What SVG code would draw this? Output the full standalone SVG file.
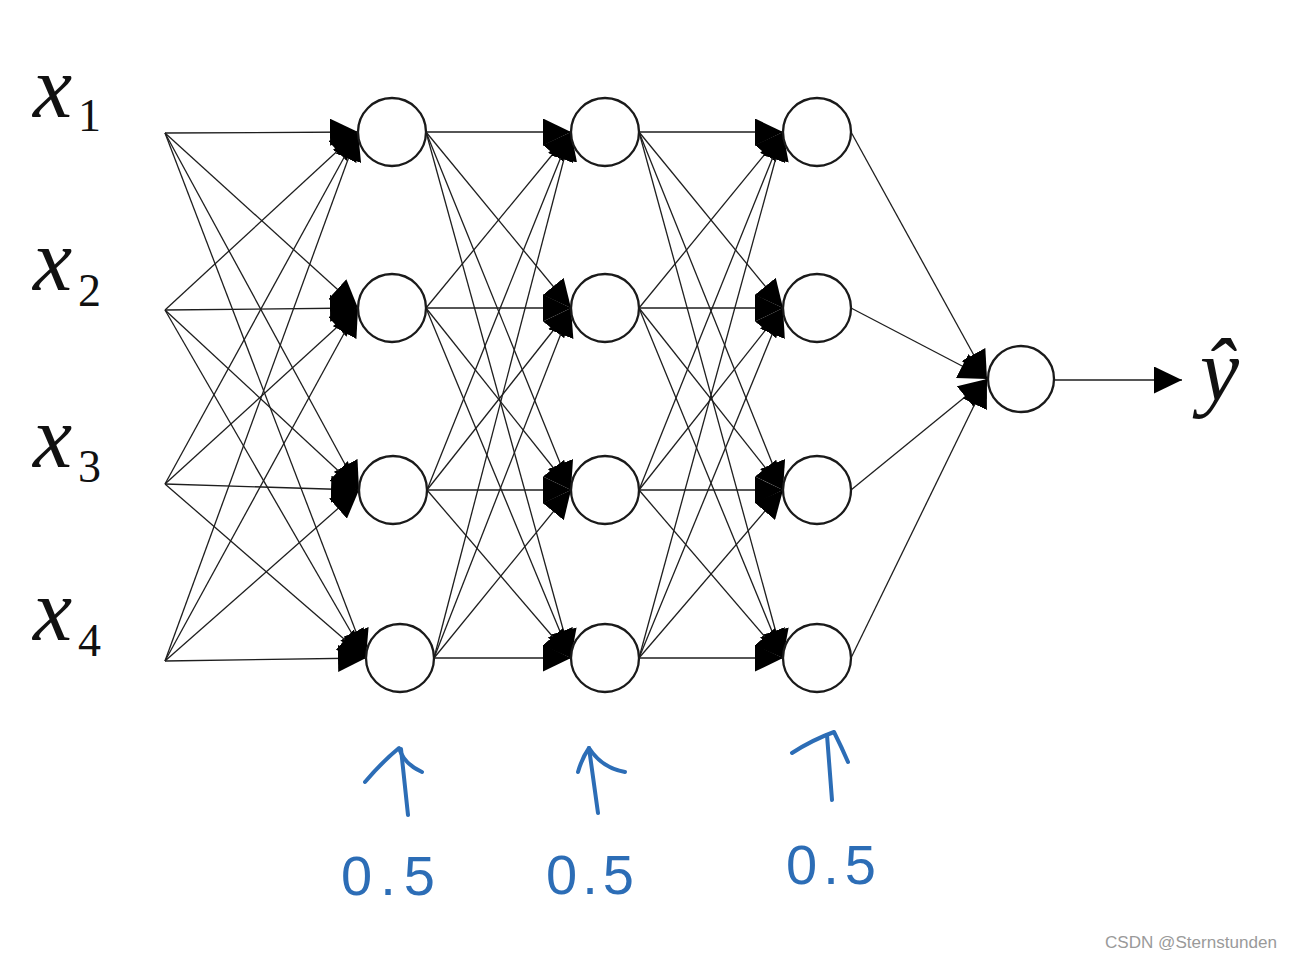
<svg xmlns="http://www.w3.org/2000/svg" width="1292" height="958" viewBox="0 0 1292 958">
<style>
.bg{fill:#ffffff}
.c{stroke:#1e1e1e;stroke-width:1.3;fill:none;marker-end:url(#ah)}
.n{fill:#ffffff;stroke:#1a1a1a;stroke-width:2.3}
.var{font-family:"Liberation Serif","DejaVu Serif",serif;font-style:italic;font-size:88px;fill:#111}
.sub{font-family:"Liberation Serif","DejaVu Serif",serif;font-size:46px;fill:#111}
.hand{fill:none;stroke:#2c6db6;stroke-width:4;stroke-linecap:round;stroke-linejoin:round}
.num{font-family:"Liberation Sans","DejaVu Sans",sans-serif;font-size:56px;fill:#2c6db6}
.wm{font-family:"Liberation Sans","DejaVu Sans",sans-serif;font-size:16px;fill:#9a9a9a}
</style>
<defs>
<marker id="ah" markerUnits="userSpaceOnUse" markerWidth="28" markerHeight="27" refX="28" refY="13.5" orient="auto">
<path d="M0,0 L28,13.5 L0,27 Z" fill="#000"/>
</marker>
</defs>
<rect class="bg" x="0" y="0" width="1292" height="958"/>
<g id="connectors">
<!-- inputs to layer 1 -->
<line class="c" x1="165" y1="133" x2="358" y2="132"/>
<line class="c" x1="165" y1="133" x2="358" y2="308"/>
<line class="c" x1="165" y1="133" x2="359" y2="490"/>
<line class="c" x1="165" y1="133" x2="366" y2="658"/>
<line class="c" x1="165" y1="310" x2="358" y2="132"/>
<line class="c" x1="165" y1="310" x2="358" y2="308"/>
<line class="c" x1="165" y1="310" x2="359" y2="490"/>
<line class="c" x1="165" y1="310" x2="366" y2="658"/>
<line class="c" x1="165" y1="484" x2="358" y2="132"/>
<line class="c" x1="165" y1="484" x2="358" y2="308"/>
<line class="c" x1="165" y1="484" x2="359" y2="490"/>
<line class="c" x1="165" y1="484" x2="366" y2="658"/>
<line class="c" x1="165" y1="661" x2="358" y2="132"/>
<line class="c" x1="165" y1="661" x2="358" y2="308"/>
<line class="c" x1="165" y1="661" x2="359" y2="490"/>
<line class="c" x1="165" y1="661" x2="366" y2="658"/>
<!-- layer 1 to layer 2 -->
<line class="c" x1="426" y1="132" x2="571" y2="132"/>
<line class="c" x1="426" y1="132" x2="571" y2="308"/>
<line class="c" x1="426" y1="132" x2="571" y2="490"/>
<line class="c" x1="426" y1="132" x2="571" y2="658"/>
<line class="c" x1="426" y1="308" x2="571" y2="132"/>
<line class="c" x1="426" y1="308" x2="571" y2="308"/>
<line class="c" x1="426" y1="308" x2="571" y2="490"/>
<line class="c" x1="426" y1="308" x2="571" y2="658"/>
<line class="c" x1="427" y1="490" x2="571" y2="132"/>
<line class="c" x1="427" y1="490" x2="571" y2="308"/>
<line class="c" x1="427" y1="490" x2="571" y2="490"/>
<line class="c" x1="427" y1="490" x2="571" y2="658"/>
<line class="c" x1="434" y1="658" x2="571" y2="132"/>
<line class="c" x1="434" y1="658" x2="571" y2="308"/>
<line class="c" x1="434" y1="658" x2="571" y2="490"/>
<line class="c" x1="434" y1="658" x2="571" y2="658"/>
<!-- layer 2 to layer 3 -->
<line class="c" x1="639" y1="132" x2="783" y2="132"/>
<line class="c" x1="639" y1="132" x2="783" y2="308"/>
<line class="c" x1="639" y1="132" x2="783" y2="490"/>
<line class="c" x1="639" y1="132" x2="783" y2="658"/>
<line class="c" x1="639" y1="308" x2="783" y2="132"/>
<line class="c" x1="639" y1="308" x2="783" y2="308"/>
<line class="c" x1="639" y1="308" x2="783" y2="490"/>
<line class="c" x1="639" y1="308" x2="783" y2="658"/>
<line class="c" x1="639" y1="490" x2="783" y2="132"/>
<line class="c" x1="639" y1="490" x2="783" y2="308"/>
<line class="c" x1="639" y1="490" x2="783" y2="490"/>
<line class="c" x1="639" y1="490" x2="783" y2="658"/>
<line class="c" x1="639" y1="658" x2="783" y2="132"/>
<line class="c" x1="639" y1="658" x2="783" y2="308"/>
<line class="c" x1="639" y1="658" x2="783" y2="490"/>
<line class="c" x1="639" y1="658" x2="783" y2="658"/>
<!-- layer 3 to output -->
<line class="c" x1="851" y1="132" x2="987" y2="379"/>
<line class="c" x1="851" y1="308" x2="987" y2="379"/>
<line class="c" x1="851" y1="490" x2="987" y2="379"/>
<line class="c" x1="851" y1="658" x2="987" y2="379"/>
<!-- output -->
<line class="c" x1="1055" y1="380" x2="1182" y2="380"/>
</g>
<g id="inputs">
<g id="in1"><text class="var" x="33" y="117">x</text><text class="sub" x="78" y="131">1</text></g>
<g id="in2"><text class="var" x="33" y="290">x</text><text class="sub" x="78" y="306">2</text></g>
<g id="in3"><text class="var" x="33" y="467">x</text><text class="sub" x="78" y="482">3</text></g>
<g id="in4"><text class="var" x="33" y="640">x</text><text class="sub" x="78" y="656">4</text></g>
</g>
<g id="layer1">
<g id="h1_1"><circle class="n" cx="392" cy="132" r="34"/></g>
<g id="h1_2"><circle class="n" cx="392" cy="308" r="34"/></g>
<g id="h1_3"><circle class="n" cx="393" cy="490" r="34"/></g>
<g id="h1_4"><circle class="n" cx="400" cy="658" r="34"/></g>
</g>
<g id="layer2">
<g id="h2_1"><circle class="n" cx="605" cy="132" r="34"/></g>
<g id="h2_2"><circle class="n" cx="605" cy="308" r="34"/></g>
<g id="h2_3"><circle class="n" cx="605" cy="490" r="34"/></g>
<g id="h2_4"><circle class="n" cx="605" cy="658" r="34"/></g>
</g>
<g id="layer3">
<g id="h3_1"><circle class="n" cx="817" cy="132" r="34"/></g>
<g id="h3_2"><circle class="n" cx="817" cy="308" r="34"/></g>
<g id="h3_3"><circle class="n" cx="817" cy="490" r="34"/></g>
<g id="h3_4"><circle class="n" cx="817" cy="658" r="34"/></g>
</g>
<g id="output">
<circle class="n" cx="1021" cy="379" r="33"/>
<text class="var" x="1200" y="400" font-size="90">ŷ</text>
</g>
<g id="annotations">
<g id="keep1">
<path class="hand" d="M408,815 L401,749"/>
<path class="hand" d="M365,782 Q382,762 399,748 Q404,764 422,772"/>
<text class="num" x="341" y="895" textLength="94" lengthAdjust="spacing">0.5</text>
</g>
<g id="keep2">
<path class="hand" d="M598,813 L589,748"/>
<path class="hand" d="M578,772 Q582,758 589,748 Q602,768 625,772"/>
<text class="num" x="546" y="894" textLength="88" lengthAdjust="spacing">0.5</text>
</g>
<g id="keep3">
<path class="hand" d="M832,800 L827,735"/>
<path class="hand" d="M792,753 Q812,740 834,732 Q842,748 848,762"/>
<text class="num" x="786" y="884" textLength="90" lengthAdjust="spacing" font-size="50">0.5</text>
</g>
</g>
<text class="wm" x="1105" y="948" textLength="172" lengthAdjust="spacingAndGlyphs">CSDN @Sternstunden</text>
</svg>
